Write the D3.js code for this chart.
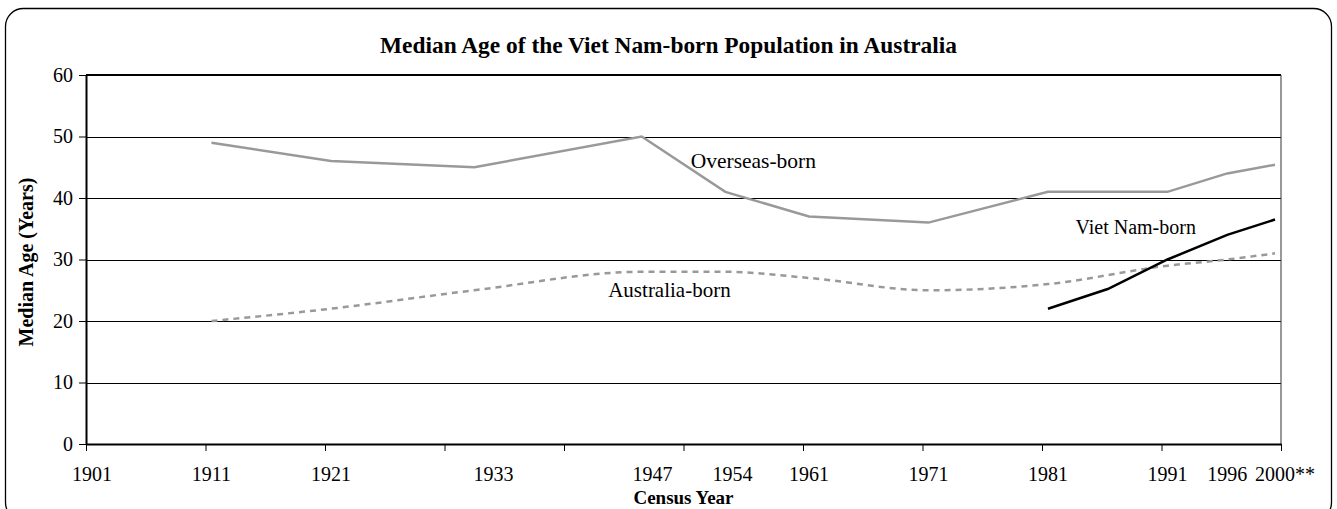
<!DOCTYPE html>
<html>
<head>
<meta charset="utf-8">
<script src="https://cdn.jsdelivr.net/npm/d3@7"></script>
<style>
  body { margin: 0; background: #fff; }
  text { font-family: "Liberation Serif", "Times New Roman", serif; fill: #000; }
</style>
</head>
<body>
<script>
// median age by census year
const overseasYears = [1911, 1921, 1933, 1947, 1954, 1961, 1971, 1981, 1991, 1996, 2000];
const overseasAge   = [49, 46, 45, 50, 41, 37, 36, 41, 41, 44, 45.4];
const ausYears = [1911, 1921, 1933, 1947, 1954, 1961, 1971, 1981, 1991, 1996, 2000];
const ausAge   = [20, 22, 25, 28, 28, 27, 25, 26, 29, 30, 31];
const vietYears = [1981, 1986, 1991, 1996, 2000];
const vietAge   = [22, 25.2, 30, 34, 36.5];

// census year labels under the axis, and where they sit
const tickLabels  = ["1901", "1911", "1921", "1933", "1947", "1954", "1961", "1971", "1981", "1991", "1996", "2000**"];
const tickLabelAt = [1901, 1911, 1921, 1934.6, 1947.9, 1954.6, 1961, 1971, 1981, 1991, 1996, 2000];
const yTicks = [0, 10, 20, 30, 40, 50, 60];

let width = 1337, height = 509;
let margin = { top: 75, bottom: 65, left: 86, right: 56 };

let svg = d3.select("body").append("svg")
  .attr("width", width)
  .attr("height", height);

// outer rounded frame
svg.append("rect")
  .attr("x", 5.5).attr("y", 8.5)
  .attr("width", 1326).attr("height", 512)
  .attr("rx", 18)
  .attr("fill", "none")
  .attr("stroke", "#000")
  .attr("stroke-width", 1.3);

let x = d3.scaleLinear()
  .domain([1900.5, 2000.5])
  .range([margin.left, width - margin.right]);

let y = d3.scaleLinear()
  .domain([0, 60])
  .range([height - margin.bottom, margin.top]);

// horizontal grid
svg.append("g").selectAll("line")
  .data(yTicks.slice(1, -1))
  .join("line")
  .attr("x1", x.range()[0]).attr("x2", x.range()[1])
  .attr("y1", d => Math.round(y(d)) + 0.5).attr("y2", d => Math.round(y(d)) + 0.5)
  .attr("stroke", "#000").attr("stroke-width", 1);

// top and right frame of the plot
svg.append("line")
  .attr("x1", x.range()[0]).attr("x2", x.range()[1])
  .attr("y1", y(60)).attr("y2", y(60))
  .attr("stroke", "#000").attr("stroke-width", 2);
svg.append("line")
  .attr("x1", x.range()[1]).attr("x2", x.range()[1])
  .attr("y1", y(60)).attr("y2", y(0))
  .attr("stroke", "#333").attr("stroke-width", 1);

// Y axis
let ejeY = d3.axisLeft(y).tickValues(yTicks).tickSize(7).tickSizeOuter(0).tickPadding(6);
let gY = svg.append("g")
  .attr("transform", "translate(" + margin.left + ",0)")
  .call(ejeY);
gY.selectAll("text").style("font-size", "20px").style("font-family", "Liberation Serif");
gY.selectAll("line").attr("stroke", "#000");
gY.select(".domain").attr("stroke", "#000").attr("stroke-width", 2);

// X axis: tick marks every ten years, labels drawn apart
let ejeX = d3.axisBottom(x).tickValues(d3.range(1900.5, 2001, 10)).tickSize(7).tickSizeOuter(0).tickFormat("");
let gX = svg.append("g")
  .attr("transform", "translate(0," + y(0) + ")")
  .call(ejeX);
gX.selectAll("line").attr("stroke", "#000");
gX.select(".domain").attr("stroke", "#000").attr("stroke-width", 2);

let labs = svg.append("g").selectAll("g")
  .data(tickLabels.map((t, i) => ({ text: t, at: tickLabelAt[i] })))
  .join("g");
labs.each(function (d) {
  let g = d3.select(this);
  let num = d.text.replace(/\*+$/, "");
  let suffix = d.text.slice(num.length);
  let t = g.append("text")
    .attr("x", x(d.at)).attr("y", 481)
    .attr("text-anchor", "middle")
    .style("font-size", "20px")
    .text(num);
  if (suffix) {
    let w = t.node().getComputedTextLength();
    g.append("text")
      .attr("x", x(d.at) + w / 2).attr("y", 481)
      .style("font-size", "20px")
      .text(suffix);
  }
});

// lines
function serie(years, ages) { return years.map((yr, i) => ({ year: yr, age: ages[i] })); }

let linea = d3.line().x(d => x(d.year)).y(d => y(d.age));
let lineaSuave = d3.line().x(d => x(d.year)).y(d => y(d.age)).curve(d3.curveMonotoneX);

svg.append("path")
  .datum(serie(overseasYears, overseasAge))
  .attr("d", linea)
  .attr("fill", "none").attr("stroke", "#999").attr("stroke-width", 2.5);

svg.append("path")
  .datum(serie(ausYears, ausAge))
  .attr("d", lineaSuave)
  .attr("fill", "none").attr("stroke", "#999").attr("stroke-width", 2.5)
  .attr("stroke-dasharray", "6,5");

svg.append("path")
  .datum(serie(vietYears, vietAge))
  .attr("d", linea)
  .attr("fill", "none").attr("stroke", "#000").attr("stroke-width", 2.5);

// series names
svg.append("text").attr("x", x(1951.1)).attr("y", y(44.9)).style("font-size", "21.5px").text("Overseas-born");
svg.append("text").attr("x", x(1944.2)).attr("y", y(23.9)).style("font-size", "21px").text("Australia-born");
svg.append("text").attr("x", x(1983.3)).attr("y", y(34.1)).style("font-size", "20px").text("Viet Nam-born");

// titles
svg.append("text")
  .attr("x", width / 2).attr("y", 53)
  .attr("text-anchor", "middle")
  .style("font-size", "23.4px").style("font-weight", "bold")
  .text("Median Age of the Viet Nam-born Population in Australia");

svg.append("text")
  .attr("x", (x.range()[0] + x.range()[1]) / 2).attr("y", 504)
  .attr("text-anchor", "middle")
  .style("font-size", "19px").style("font-weight", "bold")
  .text("Census Year");

svg.append("text")
  .attr("transform", "translate(33," + 262 + ") rotate(-90)")
  .attr("text-anchor", "middle")
  .style("font-size", "20px").style("font-weight", "bold")
  .text("Median Age (Years)");
</script>
</body>
</html>
